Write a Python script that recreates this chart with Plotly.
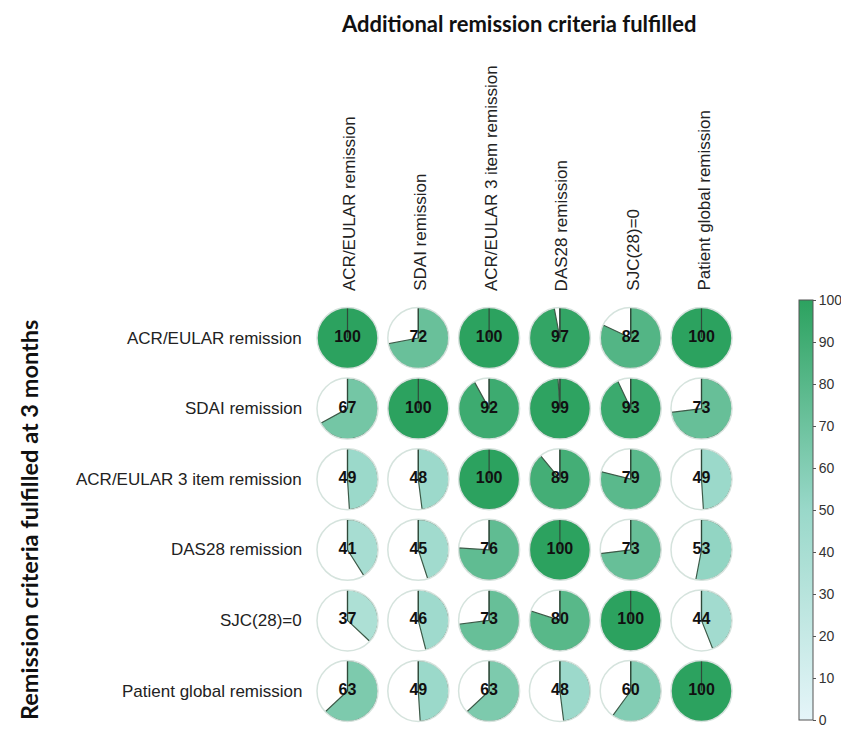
import plotly.graph_objects as go

row_labels = ["ACR/EULAR remission", "SDAI remission", "ACR/EULAR 3 item remission",
              "DAS28 remission", "SJC(28)=0", "Patient global remission"]
col_labels = ["ACR/EULAR remission", "SDAI remission", "ACR/EULAR 3 item remission",
              "DAS28 remission", "SJC(28)=0", "Patient global remission"]
values = [
    [100, 72, 100, 97, 82, 100],
    [67, 100, 92, 99, 93, 73],
    [49, 48, 100, 89, 79, 49],
    [41, 45, 76, 100, 73, 53],
    [37, 46, 73, 80, 100, 44],
    [63, 49, 63, 48, 60, 100],
]
colorbar_ticks = [0, 10, 20, 30, 40, 50, 60, 70, 80, 90, 100]

# page offset (browser body margin) compensation
OFF = 8
W, H = 849 - OFF, 729 - OFF


def fx(x):
    return (x - OFF) / W


def fy(y):
    return 1 - (y - OFF) / H


col_x = [347.5, 418.3, 489.1, 559.9, 630.7, 701.5]
row_y = [338, 408.6, 479.2, 549.8, 620.4, 691]
R = 30.5

cscale = [[0, "#e5f5f9"], [0.5, "#99d8c9"], [1, "#2ca25f"]]

fig = go.Figure()
layout_polars = {}
k = 0
for i, rl in enumerate(row_labels):
    for j, cl in enumerate(col_labels):
        k += 1
        name = "polar" if k == 1 else f"polar{k}"
        v = values[i][j]
        fig.add_trace(go.Barpolar(
            r=[1], theta=[v * 3.6 / 2], width=[v * 3.6], base=0,
            marker=dict(color=[v], colorscale=cscale, cmin=0, cmax=100,
                        line=dict(color="#3d5a48", width=1.2),
                        showscale=(k == 1),
                        colorbar=dict(x=fx(799), xanchor="left", xref="paper", xpad=0,
                                      y=fy(510), yanchor="middle", ypad=0,
                                      len=420 / H, lenmode="fraction",
                                      thickness=14, outlinecolor="#555555", outlinewidth=1,
                                      tickvals=colorbar_ticks, ticks="outside", ticklen=3,
                                      tickcolor="#555555",
                                      tickfont=dict(family="Liberation Sans", size=14, color="#333333"))),
            subplot=name, showlegend=False, hoverinfo="skip"))
        fig.add_trace(go.Scatterpolar(
            r=[0, 1], theta=[0, 0], mode="lines",
            line=dict(color="#2f4a3a", width=1.2),
            subplot=name, showlegend=False, hoverinfo="skip"))
        fig.add_trace(go.Scatterpolar(
            r=[0], theta=[0], mode="text", text=[str(v)],
            textfont=dict(family="Liberation Sans", size=16, color="#111111", weight="bold"),
            subplot=name, showlegend=False, hoverinfo="skip"))
        cx, cy = col_x[j], row_y[i]
        layout_polars[name] = dict(
            domain=dict(x=[fx(cx - R), fx(cx + R)], y=[fy(cy + R), fy(cy - R)]),
            bgcolor="white",
            radialaxis=dict(visible=False, range=[0, 1]),
            angularaxis=dict(rotation=90, direction="clockwise", showgrid=False,
                             showticklabels=False, ticks="", showline=True,
                             linecolor="#d5e3dd", linewidth=1.5),
            barmode="overlay",
        )

fig.update_layout(**layout_polars)

annotations = []
for i, rl in enumerate(row_labels):
    annotations.append(dict(x=fx(304), y=fy(row_y[i]), xref="paper", yref="paper",
                            text=rl, showarrow=False, xanchor="right", yanchor="middle",
                            font=dict(family="Liberation Sans", size=17, color="#222222")))
for j, cl in enumerate(col_labels):
    annotations.append(dict(x=fx(col_x[j] + 2), y=fy(293), xref="paper", yref="paper",
                            text=cl, showarrow=False, textangle=-90,
                            xanchor="center", yanchor="bottom",
                            font=dict(family="Liberation Sans", size=17, color="#222222")))
annotations.append(dict(x=fx(518), y=fy(24), xref="paper", yref="paper",
                        text="<b>Additional remission criteria fulfilled</b>", showarrow=False,
                        xanchor="center", yanchor="middle",
                        font=dict(family="Lato", size=22, color="#111111")))
annotations.append(dict(x=fx(29), y=fy(520), xref="paper", yref="paper",
                        text="<b>Remission criteria fulfilled at 3 months</b>", showarrow=False,
                        textangle=-90, xanchor="center", yanchor="middle",
                        font=dict(family="Lato", size=23.5, color="#111111")))

fig.update_layout(width=W, height=H, margin=dict(l=0, r=0, t=0, b=0),
                  paper_bgcolor="white", plot_bgcolor="white",
                  annotations=annotations)

fig.write_html("out.html")
